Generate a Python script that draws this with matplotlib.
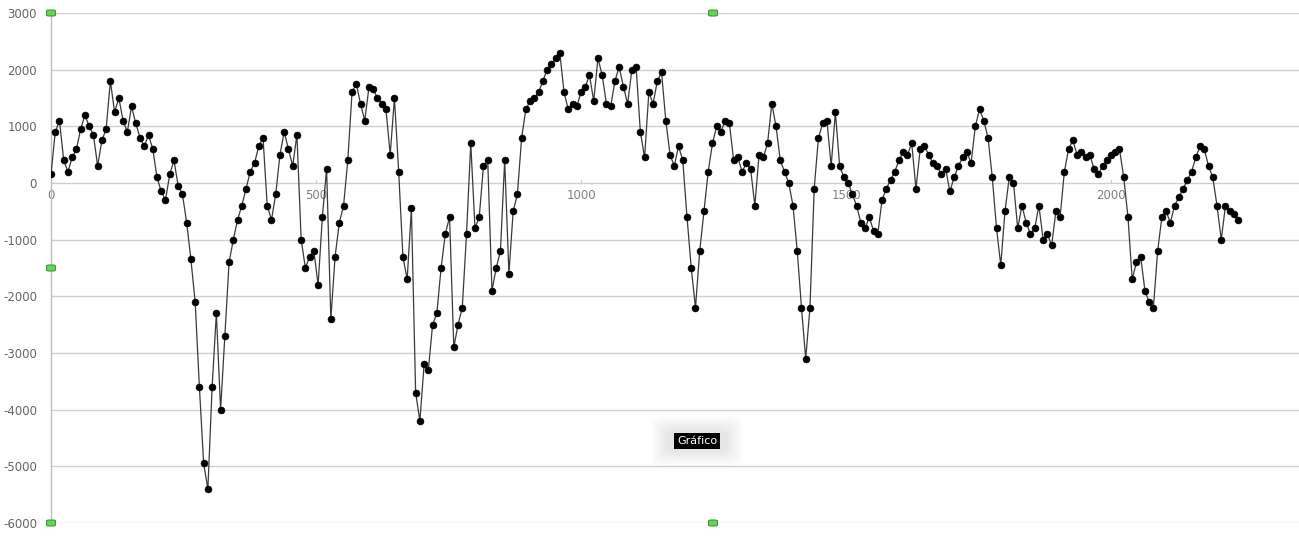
import numpy as np
import matplotlib
matplotlib.use("Agg")
import matplotlib.pyplot as plt
from matplotlib.patches import FancyBboxPatch

# sample spacing along x (one point every 8 units)
step = 8
values = [
    150, 900, 1100, 400, 200, 450, 600, 950, 1200, 1000,
    850, 300, 750, 950, 1800, 1250, 1500, 1100, 900, 1350,
    1050, 800, 650, 850, 600, 100, -150, -300, 150, 400,
    -50, -200, -700, -1350, -2100, -3600, -4950, -5400, -3600, -2300,
    -4000, -2700, -1400, -1000, -650, -400, -100, 200, 350, 650,
    800, -400, -650, -200, 500, 900, 600, 300, 850, -1000,
    -1500, -1300, -1200, -1800, -600, 250, -2400, -1300, -700, -400,
    400, 1600, 1750, 1400, 1100, 1700, 1650, 1500, 1400, 1300,
    500, 1500, 200, -1300, -1700, -450, -3700, -4200, -3200, -3300,
    -2500, -2300, -1500, -900, -600, -2900, -2500, -2200, -900, 700,
    -800, -600, 300, 400, -1900, -1500, -1200, 400, -1600, -500,
    -200, 800, 1300, 1450, 1500, 1600, 1800, 2000, 2100, 2200,
    2300, 1600, 1300, 1400, 1350, 1600, 1700, 1900, 1450, 2200,
    1900, 1400, 1350, 1800, 2050, 1700, 1400, 2000, 2050, 900,
    450, 1600, 1400, 1800, 1950, 1100, 500, 300, 650, 400,
    -600, -1500, -2200, -1200, -500, 200, 700, 1000, 900, 1100,
    1050, 400, 450, 200, 350, 250, -400, 500, 450, 700,
    1400, 1000, 400, 200, 0, -400, -1200, -2200, -3100, -2200,
    -100, 800, 1050, 1100, 300, 1250, 300, 100, 0, -200,
    -400, -700, -800, -600, -850, -900, -300, -100, 50, 200,
    400, 550, 500, 700, -100, 600, 650, 500, 350, 300,
    150, 250, -150, 100, 300, 450, 550, 350, 1000, 1300,
    1100, 800, 100, -800, -1450, -500, 100, 0, -800, -400,
    -700, -900, -800, -400, -1000, -900, -1100, -500, -600, 200,
    600, 750, 500, 550, 450, 500, 250, 150, 300, 400,
    500, 550, 600, 100, -600, -1700, -1400, -1300, -1900, -2100,
    -2200, -1200, -600, -500, -700, -400, -250, -100, 50, 200,
    450, 650, 600, 300, 100, -400, -1000, -400, -500, -550,
    -650,
]
xs = np.arange(len(values)) * step
xticks = [0, 500, 1000, 1500, 2000]
yticks = [3000, 2000, 1000, 0, -1000, -2000, -3000, -4000, -5000, -6000]

W, H = 1299, 540
fig = plt.figure(figsize=(W / 100, H / 100), dpi=100)
fig.patch.set_facecolor("white")

left_px, top_px, bottom_px = 51, 13, 523
ax = fig.add_axes([left_px / W, 1 - bottom_px / H, 1 - left_px / W, (bottom_px - top_px) / H])
ax.set_ylim(-6000, 3000)
ax.set_xlim(0, (W - left_px) / 0.53)

ax.plot(xs, values, color="#3a3a3a", lw=0.9, marker="o", markersize=5,
        markerfacecolor="black", markeredgecolor="black", markeredgewidth=0.4, zorder=3)

for y in yticks:
    ax.axhline(y, color="#cfcfcf", lw=1.0, zorder=1)

for s in ["top", "right", "bottom"]:
    ax.spines[s].set_visible(False)
ax.spines["left"].set_color("#bdbdbd")
ax.spines["left"].set_linewidth(1.0)

ax.set_yticks(yticks)
ax.set_yticklabels([str(v) for v in yticks], color="#666666", fontsize=8.5)
ax.tick_params(axis="y", length=0, pad=10)
ax.set_xticks([])

# x labels sit under the zero line
for t in xticks:
    ax.plot([t, t], [0, 60], color="#cccccc", lw=0.8, zorder=1)
    ax.text(t, -100, str(t), ha="center", va="top", color="#808080", fontsize=8.5, zorder=2)


def fx(px):
    return px / W


def fy(py):
    return 1 - py / H


# green selection handles
for hx, hy in [(51, 13), (713, 13), (51, 268), (51, 523), (713, 523)]:
    fig.add_artist(FancyBboxPatch((fx(hx - 4.5), fy(hy + 3)), 9 / W, 6 / H,
                                  boxstyle="round,pad=0,rounding_size=0.002",
                                  transform=fig.transFigure, facecolor="#66d45a",
                                  edgecolor="#3c9a35", lw=0.8, zorder=10))

# tooltip with a soft shadow
for i in range(8):
    grow = 16 - 2 * i
    fig.add_artist(FancyBboxPatch((fx(668 - grow), fy(450 + grow)), (58 + 2 * grow) / W,
                                  (18 + 2 * grow) / H,
                                  boxstyle="round,pad=0,rounding_size=0.01",
                                  transform=fig.transFigure, facecolor="black",
                                  edgecolor="none", alpha=0.012, zorder=9))
fig.text(fx(697), fy(441), "Gráfico", ha="center", va="center", color="white", fontsize=8,
         bbox=dict(boxstyle="square,pad=0.3", facecolor="black", edgecolor="none"), zorder=11)

fig.savefig("out.png", dpi=100)
